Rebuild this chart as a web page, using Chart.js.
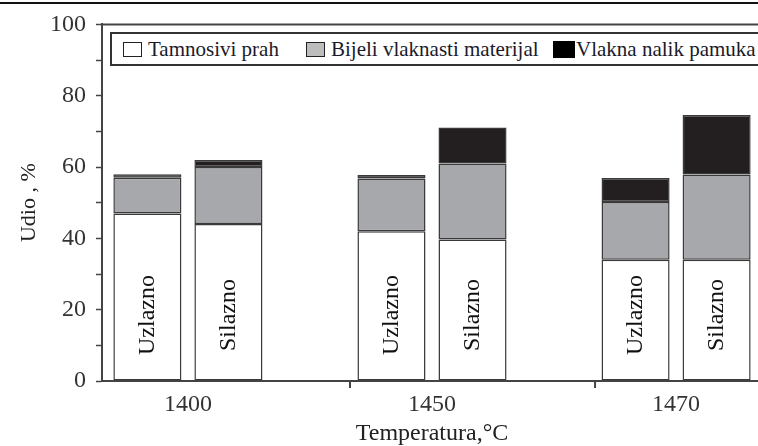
<!DOCTYPE html>
<html>
<head>
<meta charset="utf-8">
<script src="https://cdn.jsdelivr.net/npm/chart.js@4"></script>
<style>
  html, body { margin: 0; padding: 0; background: #fff; overflow: hidden; }
  #wrap { position: relative; width: 758px; height: 446px; overflow: hidden; }
  #topline { position: absolute; left: 0; top: 2px; width: 758px; height: 2px; background: #111; }
  #chart { position: absolute; left: 0; top: 0; }
  #legend {
    position: absolute; left: 110px; top: 32px; width: 700px; height: 30px;
    border: 2px solid #333; background: #fff;
    font-family: "Liberation Serif", serif; font-size: 21px; color: #1a1a2a;
    white-space: nowrap; line-height: 30px;
  }
  #legend span.item { position: absolute; top: 0; }
  #legend i { display: inline-block; vertical-align: middle; margin-top: -3px; border: 1.5px solid #222; }
</style>
</head>
<body>
<div id="wrap">
  <canvas id="chart" width="762" height="446"></canvas>
  <div id="topline"></div>
  <div id="legend"></div>
</div>
<script>
var temps = ['1400', '1450', '1470'];
var modes = ['Uzlazno', 'Silazno'];
var seriesNames = ['Tamnosivi prah', 'Bijeli vlaknasti materijal', 'Vlakna nalik pamuka'];
var seriesColors = ['#ffffff', '#a7a8ac', '#231f20'];
var legendColors = ['#ffffff', '#bdbdbd', '#000000'];

// Uzlazno (rising)
var uzTamnosivi = [47, 42, 34];
var uzBijeli = [10, 14.8, 16.2];
var uzVlakna = [1, 1, 6.7];
// Silazno (falling)
var siTamnosivi = [44, 39.7, 34];
var siBijeli = [16, 21.3, 23.9];
var siVlakna = [2, 10.1, 16.7];

var yTicks = [0, 20, 40, 60, 80, 100];
// small marks on the x axis between the groups
var xSplitMarks = [0.664, 1.668];

function pts(arr) {
    return arr.map((v, i) => ({ x: i, y: v }));
}

var stacks = [
    { name: modes[0], values: [uzTamnosivi, uzBijeli, uzVlakna] },
    { name: modes[1], values: [siTamnosivi, siBijeli, siVlakna] }
];

var datasets = [];
stacks.forEach(s => {
    s.values.forEach((vals, k) => {
        datasets.push({
            label: seriesNames[k],
            stack: s.name,
            data: pts(vals),
            backgroundColor: seriesColors[k],
            borderColor: '#3a3a3a',
            borderWidth: 1.5,
            borderSkipped: false,
            categoryPercentage: 0.664,
            barPercentage: 0.84
        });
    });
});

// legend as html
var legend = document.getElementById('legend');
var legendLeft = [11, 194, 441];
seriesNames.forEach((n, k) => {
    var item = document.createElement('span');
    item.className = 'item';
    item.style.left = legendLeft[k] + 'px';
    var box = k == 2
        ? '<i style="width:20px;height:15px;background:' + legendColors[k] + ';border-color:#000;margin-right:1px"></i>'
        : '<i style="width:17px;height:13px;background:' + legendColors[k] + ';margin-right:6px"></i>';
    item.innerHTML = box + n;
    legend.appendChild(item);
});

var frame = {
    id: 'frame',
    afterDraw(chart) {
        var a = chart.chartArea, c = chart.ctx, x = chart.scales.x;
        c.save();
        c.strokeStyle = '#444';
        c.lineWidth = 2;
        c.beginPath();
        c.moveTo(a.left, a.top);
        c.lineTo(a.right, a.top);
        c.lineTo(a.right, a.bottom);
        c.stroke();
        xSplitMarks.forEach(v => {
            var px = x.getPixelForValue(v);
            c.beginPath();
            c.moveTo(px, a.bottom);
            c.lineTo(px, a.bottom + 7);
            c.stroke();
        });
        c.restore();
    }
};

var barText = {
    id: 'barText',
    afterDatasetsDraw(chart) {
        var c = chart.ctx;
        var y = chart.scales.y.getPixelForValue(18.5);
        c.save();
        c.fillStyle = '#111';
        c.font = '24px "Liberation Serif", serif';
        c.textAlign = 'center';
        c.textBaseline = 'middle';
        [0, 3].forEach((di, s) => {
            chart.getDatasetMeta(di).data.forEach(el => {
                c.save();
                c.translate(el.x, y);
                c.rotate(-Math.PI / 2);
                c.fillText(modes[s], 0, 0);
                c.restore();
            });
        });
        c.restore();
    }
};

var chart = new Chart(document.getElementById('chart').getContext('2d'), {
    type: 'bar',
    data: { datasets: datasets },
    options: {
        responsive: false,
        animation: false,
        devicePixelRatio: 1,
        layout: { padding: { top: 23, right: 0, left: 0, bottom: 0 } },
        plugins: { legend: { display: false }, tooltip: { enabled: false } },
        scales: {
            x: {
                type: 'linear',
                min: -0.352,
                max: 2.352,
                offset: false,
                afterBuildTicks: scale => {
                    scale.ticks = temps.map((t, i) => ({ value: i }));
                },
                afterFit: scale => { scale.height = 65; },
                ticks: {
                    autoSkip: false,
                    maxRotation: 0,
                    padding: 2,
                    color: '#333',
                    font: { family: '"Liberation Serif", serif', size: 24 },
                    callback: v => temps[v]
                },
                grid: {
                    drawOnChartArea: false,
                    offset: false,
                    tickLength: 7,
                    tickColor: 'rgba(0,0,0,0)'
                },
                border: { color: '#444', width: 2 },
                title: {
                    display: true,
                    text: 'Temperatura,°C',
                    color: '#222',
                    padding: { top: 0, bottom: -2 },
                    font: { family: '"Liberation Serif", serif', size: 24 }
                }
            },
            y: {
                stacked: true,
                min: 0,
                max: 100,
                afterFit: scale => { scale.width = 102; },
                ticks: {
                    stepSize: 5,
                    padding: 10,
                    color: '#333',
                    font: { family: '"Liberation Serif", serif', size: 24 },
                    callback: v => yTicks.includes(v) ? v : ''
                },
                grid: { drawOnChartArea: false, tickLength: 6, tickWidth: 1.5, tickColor: '#444' },
                border: { color: '#444', width: 2 },
                title: {
                    display: true,
                    text: 'Udio , %',
                    color: '#222',
                    padding: { top: 16, bottom: 4 },
                    font: { family: '"Liberation Serif", serif', size: 22 }
                }
            }
        }
    },
    plugins: [frame, barText]
});
</script>
</body>
</html>
